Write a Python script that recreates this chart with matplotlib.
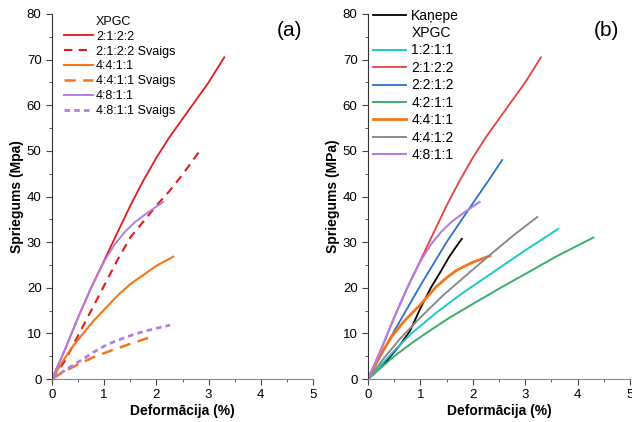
import matplotlib

matplotlib.use("Agg")

import matplotlib.pyplot as plt
from matplotlib.lines import Line2D
from matplotlib.ticker import MultipleLocator

plt.rcParams["font.family"] = ["Liberation Sans", "DejaVu Sans"]

# ---- panel (a): XPGC, dry vs fresh ("Svaigs") ----
a_2122_x = [0, 0.25, 0.5, 0.75, 1.0, 1.25, 1.5, 1.75, 2.0, 2.25, 2.5, 2.75, 3.0, 3.3]
a_2122_y = [0, 6.5, 13.5, 20.0, 26.0, 32.0, 38.0, 43.5, 48.5, 53.0, 57.0, 61.0, 65.0, 70.5]
a_2122s_x = [0, 0.25, 0.5, 0.75, 1.0, 1.25, 1.5, 1.75, 2.0, 2.25, 2.5, 2.87]
a_2122s_y = [0, 4.0, 9.5, 15.0, 20.5, 26.0, 31.0, 34.5, 38.0, 41.2, 44.8, 50.6]
a_4411_x = [0, 0.2, 0.4, 0.6, 0.8, 1.0, 1.25, 1.5, 1.75, 2.0, 2.32]
a_4411_y = [0, 3.8, 7.2, 10.0, 12.8, 15.2, 18.2, 20.8, 22.8, 24.8, 26.8]
a_4411s_x = [0, 0.21, 0.5, 0.8, 1.17, 1.5, 1.84]
a_4411s_y = [0, 1.5, 3.2, 4.8, 6.4, 7.7, 9.0]
a_4811_x = [0, 0.25, 0.5, 0.75, 1.0, 1.2, 1.4, 1.6, 1.8, 2.0, 2.13]
a_4811_y = [0, 6.5, 13.5, 20.0, 25.8, 29.5, 32.3, 34.5, 36.2, 37.8, 38.8]
a_4811s_x = [0, 0.3, 0.57, 0.8, 1.0, 1.17, 1.5, 1.75, 2.03, 2.26]
a_4811s_y = [0, 2.3, 4.2, 5.9, 7.2, 8.1, 9.5, 10.4, 11.2, 11.8]

# ---- panel (b): hemp vs XPGC mixes ----
b_kanepe_x = [0, 0.3, 0.6, 0.8, 1.0, 1.2, 1.4, 1.55, 1.7, 1.79]
b_kanepe_y = [0, 3.2, 7.3, 10.5, 15.5, 20.0, 23.8, 26.8, 29.3, 30.7]
b_1211_x = [0, 0.5, 0.83, 1.3, 1.8, 2.4, 3.0, 3.63]
b_1211_y = [0, 6.2, 10.0, 14.5, 18.8, 23.5, 28.2, 32.9]
b_2122_x = a_2122_x
b_2122_y = a_2122_y
b_2212_x = [0, 0.5, 1.0, 1.5, 2.0, 2.3, 2.56]
b_2212_y = [0, 10.5, 20.5, 30.0, 38.5, 43.5, 48.0]
b_4211_x = [0, 0.5, 0.85, 1.18, 1.55, 1.95, 2.5, 3.03, 3.6, 4.3]
b_4211_y = [0, 5.0, 8.0, 10.6, 13.4, 16.1, 19.8, 23.2, 26.9, 31.0]
b_4411_x = [0, 0.2, 0.45, 0.7, 1.0, 1.3, 1.5, 1.7, 2.0, 2.33]
b_4411_y = [0, 4.5, 9.3, 12.8, 16.3, 20.2, 22.2, 23.9, 25.6, 27.0]
b_4412_x = [0, 0.3, 0.61, 1.0, 1.43, 1.9, 2.39, 2.8, 3.23]
b_4412_y = [0, 4.5, 8.8, 13.5, 18.3, 23.0, 27.8, 31.7, 35.5]
b_4811_x = a_4811_x
b_4811_y = a_4811_y

RED = "#e3191c"
RED_B = "#e8403f"
ORANGE = "#f5761a"
PURPLE = "#b27fdf"
BLACK = "#000000"
CYAN = "#1ec8c8"
BLUE = "#2a72c9"
GREEN = "#3aad6e"
GRAY = "#8a8a8a"


def _style_axes(ax, ylabel, tag):
    ax.set_xlim(0, 5)
    ax.set_ylim(0, 80)
    ax.xaxis.set_major_locator(MultipleLocator(1))
    ax.xaxis.set_minor_locator(MultipleLocator(0.5))
    ax.yaxis.set_major_locator(MultipleLocator(10))
    ax.yaxis.set_minor_locator(MultipleLocator(5))
    for side in ("top", "right"):
        ax.spines[side].set_visible(False)
    ax.spines["left"].set_color("#333333")
    ax.spines["bottom"].set_color("#888888")
    ax.tick_params(which="major", direction="out", length=4, labelsize=9.5, color="#444444")
    ax.tick_params(which="minor", direction="out", length=2.5, color="#444444")
    ax.set_xlabel("Deformācija (%)", fontsize=10, fontweight="bold", labelpad=2)
    ax.set_ylabel(ylabel, fontsize=10, fontweight="bold", labelpad=2)
    ax.text(0.91, 0.955, tag, transform=ax.transAxes, fontsize=15, ha="center", va="center")


def _blank():
    return Line2D([], [], color="none")


fig = plt.figure(figsize=(6.32, 4.22), dpi=100)
ax_a = fig.add_axes([52 / 632, 43 / 422, 261 / 632, 365 / 422])
ax_b = fig.add_axes([368 / 632, 43 / 422, 262 / 632, 365 / 422])

# panel (a)
ax_a.plot(a_2122_x, a_2122_y, color=RED, lw=1.3, label="2:1:2:2")
ax_a.plot(a_2122s_x, a_2122s_y, color=RED, lw=1.5, ls=(0, (4, 3)), label="2:1:2:2 Svaigs")
ax_a.plot(a_4411_x, a_4411_y, color=ORANGE, lw=1.5, label="4:4:1:1")
ax_a.plot(a_4411s_x, a_4411s_y, color=ORANGE, lw=1.8, ls=(0, (4.5, 3)), label="4:4:1:1 Svaigs")
ax_a.plot(a_4811_x, a_4811_y, color=PURPLE, lw=1.4, label="4:8:1:1")
ax_a.plot(a_4811s_x, a_4811s_y, color=PURPLE, lw=2.0, ls=(0, (2, 1.5)), label="4:8:1:1 Svaigs")
handles, labels = ax_a.get_legend_handles_labels()
ax_a.legend([_blank()] + handles, ["XPGC"] + labels, loc="upper left",
            bbox_to_anchor=(12 / 261, 0.995), frameon=False, fontsize=9,
            handlelength=2.3, handletextpad=0.25, labelspacing=0.23,
            borderpad=0, borderaxespad=0)
_style_axes(ax_a, "Spriegums (Mpa)", "(a)")

# panel (b)
ax_b.plot(b_kanepe_x, b_kanepe_y, color=BLACK, lw=1.3, label="Kaņepe")
ax_b.plot(b_1211_x, b_1211_y, color=CYAN, lw=1.4, label="1:2:1:1")
ax_b.plot(b_2122_x, b_2122_y, color=RED_B, lw=1.3, label="2:1:2:2")
ax_b.plot(b_2212_x, b_2212_y, color=BLUE, lw=1.3, label="2:2:1:2")
ax_b.plot(b_4211_x, b_4211_y, color=GREEN, lw=1.4, label="4:2:1:1")
ax_b.plot(b_4411_x, b_4411_y, color=ORANGE, lw=2.0, label="4:4:1:1")
ax_b.plot(b_4412_x, b_4412_y, color=GRAY, lw=1.4, label="4:4:1:2")
ax_b.plot(b_4811_x, b_4811_y, color=PURPLE, lw=1.5, label="4:8:1:1")
handles, labels = ax_b.get_legend_handles_labels()
ax_b.legend(handles[:1] + [_blank()] + handles[1:], labels[:1] + ["XPGC"] + labels[1:],
            loc="upper left", bbox_to_anchor=(5 / 262, 1.015), frameon=False, fontsize=10,
            handlelength=2.4, handletextpad=0.35, labelspacing=0.25,
            borderpad=0, borderaxespad=0)
_style_axes(ax_b, "Spriegums (MPa)", "(b)")

fig.savefig("out.png", dpi=100)
plt.close(fig)
